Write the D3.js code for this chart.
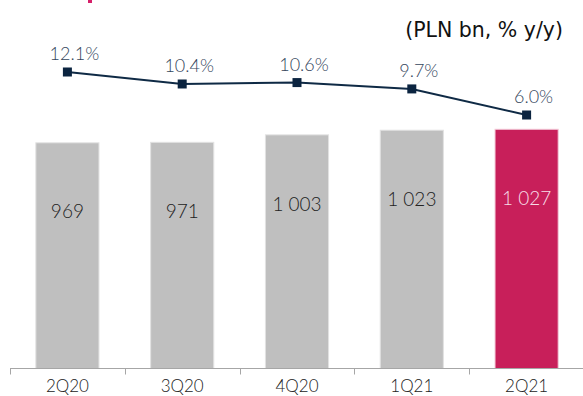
<!DOCTYPE html>
<html>
<head>
<meta charset="utf-8">
<script src="https://cdn.jsdelivr.net/npm/d3@7"></script>
<style>
  html, body { margin: 0; padding: 0; background: #fff; }
  svg { display: block; }
</style>
</head>
<body>
<div id="chartDiv"></div>
<script>
// quarters, loans volume (PLN bn) and growth y/y (%)
var quarters = ["2Q20", "3Q20", "4Q20", "1Q21", "2Q21"];
var volumes = [969, 971, 1003, 1023, 1027];
var volumeLabels = ["969", "971", "1 003", "1 023", "1 027"];
var growth = [12.1, 10.4, 10.6, 9.7, 6.0];
var growthLabels = ["12.1%", "10.4%", "10.6%", "9.7%", "6.0%"];

var width = 583, height = 396;
var axisY = 368.5;
var font = "Lato, 'Noto Sans', sans-serif";

var svg = d3.select("#chartDiv").append("svg")
	.attr("width", width)
	.attr("height", height);

// small pink mark cut off at the top edge
svg.append("rect").attr("x", 88).attr("y", 0).attr("width", 4).attr("height", 3)
	.attr("fill", "#d61f69");

var x = d3.scaleBand()
	.domain(quarters)
	.range([10, 584])
	.paddingInner(0.45)
	.paddingOuter(0.225);

var y = d3.scaleLinear()
	.domain([0, 1582])
	.range([axisY, 0]);

var yPct = d3.scaleLinear()
	.domain([6.0, 12.1])
	.range([115, 72]);

// bars
svg.selectAll(".bar")
	.data(volumes)
	.enter().append("rect")
	.attr("class", "bar")
	.attr("x", function(d, i) { return x(quarters[i]); })
	.attr("y", function(d) { return y(d); })
	.attr("width", x.bandwidth())
	.attr("height", function(d) { return axisY - y(d); })
	.attr("fill", function(d, i) { return i === volumes.length - 1 ? "#c81f5a" : "#bfbfbf"; })
	.attr("stroke", function(d, i) { return i === volumes.length - 1 ? "#f3c9d8" : "#e2e2e2"; })
	.attr("stroke-width", 1);

svg.selectAll(".vlab")
	.data(volumes)
	.enter().append("text")
	.attr("class", "vlab")
	.attr("x", function(d, i) { return x(quarters[i]) + x.bandwidth() / 2; })
	.attr("y", function(d) { return y(d) + 69; })
	.attr("dy", "0.35em")
	.attr("text-anchor", "middle")
	.attr("font-family", font)
	.attr("font-weight", 300)
	.attr("font-size", 19)
	.attr("fill", function(d, i) { return i === volumes.length - 1 ? "#f7dde7" : "#222"; })
	.text(function(d, i) { return volumeLabels[i]; });

// x axis
svg.append("line")
	.attr("x1", 10).attr("x2", width)
	.attr("y1", axisY).attr("y2", axisY)
	.attr("stroke", "#a6a6a6").attr("stroke-width", 1);

svg.selectAll(".tick")
	.data(quarters)
	.enter().append("line")
	.attr("class", "tick")
	.attr("x1", function(d) { return Math.round(x(d) - x.step() * x.paddingInner() / 2) + 0.5; })
	.attr("x2", function(d) { return Math.round(x(d) - x.step() * x.paddingInner() / 2) + 0.5; })
	.attr("y1", axisY).attr("y2", axisY + 6)
	.attr("stroke", "#a6a6a6");

svg.selectAll(".xlab")
	.data(quarters)
	.enter().append("text")
	.attr("class", "xlab")
	.attr("x", function(d) { return x(d) + x.bandwidth() / 2; })
	.attr("y", 386)
	.attr("dy", "0.35em")
	.attr("text-anchor", "middle")
	.attr("font-family", font)
	.attr("font-weight", 300)
	.attr("font-size", 17)
	.attr("fill", "#222")
	.text(function(d) { return d; });

// growth line
var line = d3.line()
	.x(function(d, i) { return x(quarters[i]) + x.bandwidth() / 2; })
	.y(function(d) { return yPct(d); });

svg.append("path")
	.datum(growth)
	.attr("d", line)
	.attr("fill", "none")
	.attr("stroke", "#0f2a45")
	.attr("stroke-width", 2);

svg.selectAll(".marker")
	.data(growth)
	.enter().append("rect")
	.attr("class", "marker")
	.attr("x", function(d, i) { return x(quarters[i]) + x.bandwidth() / 2 - 4.5; })
	.attr("y", function(d) { return yPct(d) - 4.5; })
	.attr("width", 9).attr("height", 9)
	.attr("fill", "#0b2440");

svg.selectAll(".plab")
	.data(growth)
	.enter().append("text")
	.attr("class", "plab")
	.attr("x", function(d, i) { return x(quarters[i]) + x.bandwidth() / 2 + 7; })
	.attr("y", function(d) { return yPct(d) - 18; })
	.attr("dy", "0.35em")
	.attr("text-anchor", "middle")
	.attr("font-family", font)
	.attr("font-weight", 300)
	.attr("font-size", 18)
	.attr("fill", "#34465c")
	.text(function(d, i) { return growthLabels[i]; });

// unit note
svg.append("text")
	.attr("x", 563).attr("y", 30)
	.attr("dy", "0.35em")
	.attr("text-anchor", "end")
	.attr("font-family", "'DejaVu Sans', sans-serif")
	.attr("font-size", 20.5)
	.attr("fill", "#111")
	.text("(PLN bn, % y/y)");
</script>
</body>
</html>
